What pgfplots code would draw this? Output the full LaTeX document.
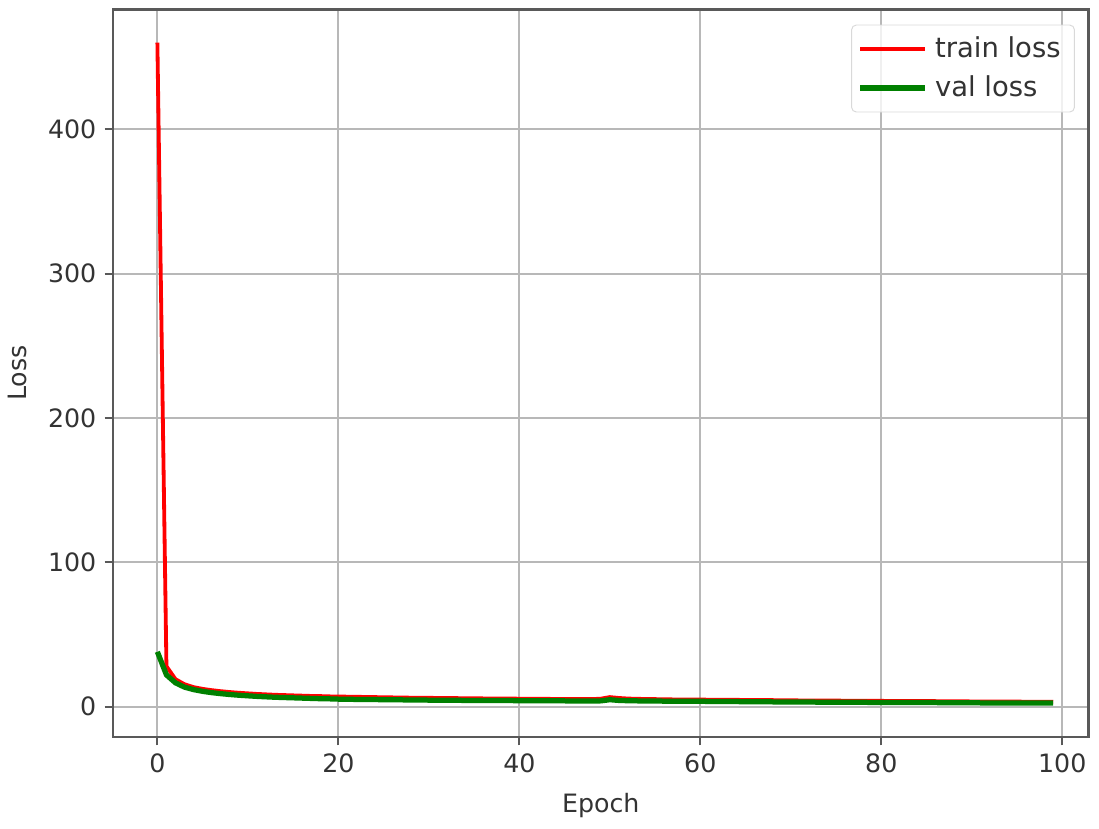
\documentclass[border=0pt]{standalone}
\usepackage{fontspec}
\setmainfont{DejaVu Sans}
\usepackage{pgfplots}
\usepackage{pgfplotstable}
\pgfplotsset{compat=1.18}
\definecolor{mplgreen}{rgb}{0,0.5,0}
\definecolor{spine}{gray}{0.35}
\definecolor{gridc}{gray}{0.72}
\definecolor{txt}{gray}{0.2}

\pgfplotstableread{
epoch train val
0 460 38
1 28 22
2 19 16.5
3 15.5 13.5
4 13.5 11.8
5 12.3 10.6
6 11.4 9.7
7 10.7 9.0
8 10.1 8.4
9 9.6 7.9
10 9.2 7.5
11 8.8 7.1
12 8.5 6.8
13 8.2 6.5
14 8.0 6.3
15 7.8 6.1
16 7.6 5.9
17 7.4 5.7
18 7.3 5.5
19 7.1 5.4
20 7.0 5.2
21 6.9 5.1
22 6.8 5.0
23 6.7 5.0
24 6.6 4.9
25 6.5 4.8
26 6.4 4.8
27 6.3 4.7
28 6.2 4.6
29 6.2 4.6
30 6.1 4.5
31 6.0 4.5
32 6.0 4.4
33 5.9 4.4
34 5.8 4.3
35 5.8 4.3
36 5.7 4.3
37 5.7 4.2
38 5.6 4.2
39 5.6 4.2
40 5.5 4.1
41 5.5 4.1
42 5.4 4.1
43 5.4 4.0
44 5.3 4.0
45 5.3 4.0
46 5.3 3.9
47 5.2 3.9
48 5.2 3.9
49 5.5 4.0
50 6.6 4.8
51 6.0 4.3
52 5.6 4.1
53 5.4 4.0
54 5.3 3.9
55 5.2 3.9
56 5.1 3.8
57 5.0 3.8
58 5.0 3.8
59 4.9 3.7
60 4.9 3.7
61 4.8 3.6
62 4.8 3.6
63 4.7 3.5
64 4.7 3.5
65 4.6 3.4
66 4.6 3.4
67 4.5 3.4
68 4.5 3.3
69 4.4 3.3
70 4.4 3.2
71 4.3 3.2
72 4.3 3.2
73 4.3 3.1
74 4.2 3.1
75 4.2 3.1
76 4.1 3.0
77 4.1 3.0
78 4.1 3.0
79 4.0 2.9
80 4.0 2.9
81 3.9 2.9
82 3.9 2.9
83 3.9 2.8
84 3.8 2.8
85 3.8 2.8
86 3.8 2.8
87 3.7 2.7
88 3.7 2.7
89 3.7 2.7
90 3.6 2.7
91 3.6 2.6
92 3.6 2.6
93 3.5 2.6
94 3.5 2.6
95 3.5 2.6
96 3.4 2.5
97 3.4 2.5
98 3.4 2.5
99 3.3 2.5
}\lossdata

\begin{document}
\begin{tikzpicture}
  \useasboundingbox (0,0) rectangle (460.8pt,347.2pt);
  \begin{axis}[
    at={(47.4pt,38.2pt)},
    anchor=south west,
    scale only axis,
    width=409pt,
    height=305pt,
    xmin=-4.9, xmax=102.9,
    ymin=-21, ymax=483,
    xtick={0,20,...,100},
    ytick={0,100,...,400},
    grid=major,
    major grid style={gridc, line width=0.8pt},
    axis line style={spine, line width=1pt},
    tick style={spine, line width=0.8pt},
    tick align=outside,
    tick pos=lower,
    major tick length=3.5pt,
    font=\fontsize{10.6}{12.7}\selectfont,
    tick label style={txt, font=\fontsize{10.6}{12.7}\selectfont},
    /pgf/number format/assume math mode=true,
    xlabel={Epoch},
    ylabel={Loss},
    label style={txt},
    xlabel style={yshift=-1.5pt},
    ylabel style={yshift=2pt},
    legend style={
      at={(1,1)}, anchor=north east,
      xshift=-5.7pt, yshift=-6.3pt,
      draw=gray!30, rounded corners=2pt,
      fill=white, fill opacity=0.8, text opacity=1,
      text=txt,
      inner xsep=2.5pt, inner ysep=3pt,
      row sep=2pt,
      font=\fontsize{11.5}{13.8}\selectfont,
      nodes={inner xsep=3.3pt},
    },
    legend cell align=left,
    legend image code/.code={\draw[#1] (0pt,0pt) -- (27pt,0pt);},
  ]
    \addplot[red, line width=1.6pt] table[x=epoch, y=train] {\lossdata};
    \addlegendentry{train loss}
    \addplot[mplgreen, line width=2.2pt] table[x=epoch, y=val] {\lossdata};
    \addlegendentry{val loss}
  \end{axis}
\end{tikzpicture}
\end{document}
